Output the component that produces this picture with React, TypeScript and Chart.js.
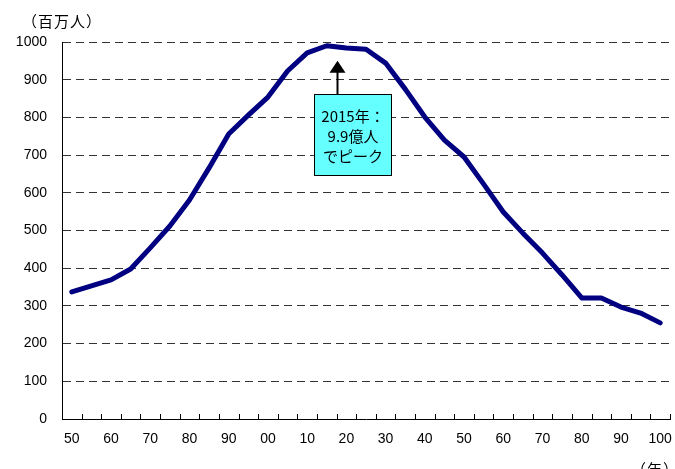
import { useEffect, useRef } from "react";
import { Chart, registerables } from "chart.js";

Chart.register(...registerables);

// Population (millions), every 5 years from 1950 to 2100
const years = [
  1950, 1955, 1960, 1965, 1970, 1975, 1980, 1985, 1990, 1995, 2000, 2005, 2010, 2015, 2020, 2025,
  2030, 2035, 2040, 2045, 2050, 2055, 2060, 2065, 2070, 2075, 2080, 2085, 2090, 2095, 2100,
];
const population = [
  337, 353, 369, 398, 454, 512, 581, 666, 756, 806, 854, 923, 971, 990, 984, 981,
  944, 875, 801, 740, 695, 623, 549, 493, 440, 382, 321, 321, 297, 281, 255,
];
const yTicks = [0, 100, 200, 300, 400, 500, 600, 700, 800, 900, 1000];
const xTickLabels = ["50", "60", "70", "80", "90", "00", "10", "20", "30", "40", "50", "60", "70", "80", "90", "100"];

const unitLabel = "（百万人）";
const yearLabel = "（年）";
const peakYear = 2015;
const peakNote = ["2015年：", "9.9億人", "でピーク"];

const FONT = "'Liberation Sans', Arial, 'Noto Sans CJK JP', sans-serif";
const CJK_FONT = "'Noto Sans CJK JP', 'Liberation Sans', sans-serif";

// Short inward tick marks on the category axis, at each category boundary
const innerTicks = {
  id: "innerTicks",
  afterDraw(chart: any) {
    const { ctx, chartArea, scales } = chart;
    const x = scales.x;
    const n = years.length;
    const step = (chartArea.right - chartArea.left) / n;
    ctx.save();
    ctx.strokeStyle = "#000";
    ctx.lineWidth = 1;
    ctx.beginPath();
    for (let i = 1; i <= n; i++) {
      const px = Math.round(x.getPixelForValue(i - 1) + step / 2) + 0.5;
      ctx.moveTo(px, chartArea.bottom);
      ctx.lineTo(px, chartArea.bottom - 5);
    }
    ctx.stroke();
    ctx.restore();
  },
};

// Draw text so that its ink starts at inkLeft
function textAtInk(ctx: CanvasRenderingContext2D, text: string, inkLeft: number, y: number) {
  const m = ctx.measureText(text);
  ctx.fillText(text, inkLeft + m.actualBoundingBoxLeft, y);
}

// Unit captions and the peak callout
const captions = {
  id: "captions",
  afterDraw(chart: any) {
    const { ctx, chartArea, scales } = chart;
    const x = scales.x;
    const y = scales.y;
    const step = (chartArea.right - chartArea.left) / years.length;

    ctx.save();
    ctx.fillStyle = "#000";
    ctx.textBaseline = "middle";
    ctx.textAlign = "left";
    ctx.font = `15px ${CJK_FONT}`;
    (ctx as any).letterSpacing = "1px";
    textAtInk(ctx, unitLabel, 32, 21);
    textAtInk(ctx, yearLabel, 641, 469);
    (ctx as any).letterSpacing = "0px";

    // callout
    const idx = years.indexOf(peakYear);
    const peakVal = population[idx];
    const ax = Math.round(x.getPixelForValue(idx) + step / 2) + 0.5;
    const tipY = y.getPixelForValue(peakVal) + 15;
    const boxTop = Math.round(tipY + 33) + 0.5;
    const boxW = 77;
    const boxH = 81;
    const boxLeft = Math.round(ax - 24) + 0.5;

    ctx.fillStyle = "#66FFFF";
    ctx.fillRect(boxLeft, boxTop, boxW, boxH);
    ctx.strokeStyle = "#000";
    ctx.lineWidth = 1;
    ctx.strokeRect(boxLeft, boxTop, boxW, boxH);

    ctx.lineWidth = 2;
    ctx.beginPath();
    ctx.moveTo(ax, boxTop);
    ctx.lineTo(ax, tipY + 10);
    ctx.stroke();
    ctx.fillStyle = "#000";
    ctx.beginPath();
    ctx.moveTo(ax, tipY);
    ctx.lineTo(ax - 8, tipY + 12);
    ctx.lineTo(ax + 8, tipY + 12);
    ctx.closePath();
    ctx.fill();

    ctx.fillStyle = "#000";
    ctx.font = `15px ${CJK_FONT}`;
    ctx.textAlign = "center";
    const cx = boxLeft + boxW / 2;
    peakNote.forEach((line, i) => {
      ctx.fillText(line, cx, boxTop + 22 + i * 20);
    });
    ctx.restore();
  },
};

export default function App() {
  const canvasRef = useRef<HTMLCanvasElement | null>(null);

  useEffect(() => {
    document.body.style.margin = "0";
    const canvas = canvasRef.current;
    if (!canvas) return;
    const chart = new Chart(canvas, {
      type: "line",
      data: {
        labels: years.map(String),
        datasets: [
          {
            data: population,
            borderColor: "#000080",
            borderWidth: 5,
            borderJoinStyle: "round",
            borderCapStyle: "round",
            pointRadius: 0,
            tension: 0,
            fill: false,
          },
        ],
      },
      options: {
        animation: false,
        responsive: false,
        maintainAspectRatio: false,
        devicePixelRatio: 1,
        layout: { padding: { top: 42, right: 5, left: 0, bottom: 0 } },
        plugins: { legend: { display: false }, tooltip: { enabled: false }, title: { display: false } },
        scales: {
          x: {
            type: "category",
            offset: true,
            grid: { display: false, drawTicks: false, offset: true },
            border: { display: true, color: "#000", width: 1 },
            ticks: {
              autoSkip: false,
              maxRotation: 0,
              padding: 12,
              color: "#000",
              font: { family: FONT, size: 14 },
              callback: (_v: any, i: number) => {
                const yr = years[i];
                return yr % 10 === 0 ? xTickLabels[(yr - 1950) / 10] : "";
              },
            },
            afterFit: (s: any) => {
              s.height = 50;
              s.paddingLeft = 0;
              s.paddingRight = 0;
            },
          },
          y: {
            min: 0,
            max: 1000,
            afterBuildTicks: (s: any) => {
              s.ticks = yTicks.map((v) => ({ value: v }));
            },
            grid: {
              color: (c: any) => (c.tick && c.tick.value === 0 ? "rgba(0,0,0,0)" : "#333"),
              lineWidth: 1,
              drawTicks: false,
            },
            border: { display: true, color: "#000", width: 1, dash: [8, 5] },
            ticks: {
              padding: 15,
              color: "#000",
              font: { family: FONT, size: 14 },
              callback: (v: any) => String(v),
            },
            afterFit: (s: any) => {
              s.width = 62;
            },
          },
        },
      },
      plugins: [innerTicks, captions],
    } as any);
    return () => chart.destroy();
  }, []);

  return <canvas ref={canvasRef} width={675} height={469} style={{ display: "block" }} />;
}
